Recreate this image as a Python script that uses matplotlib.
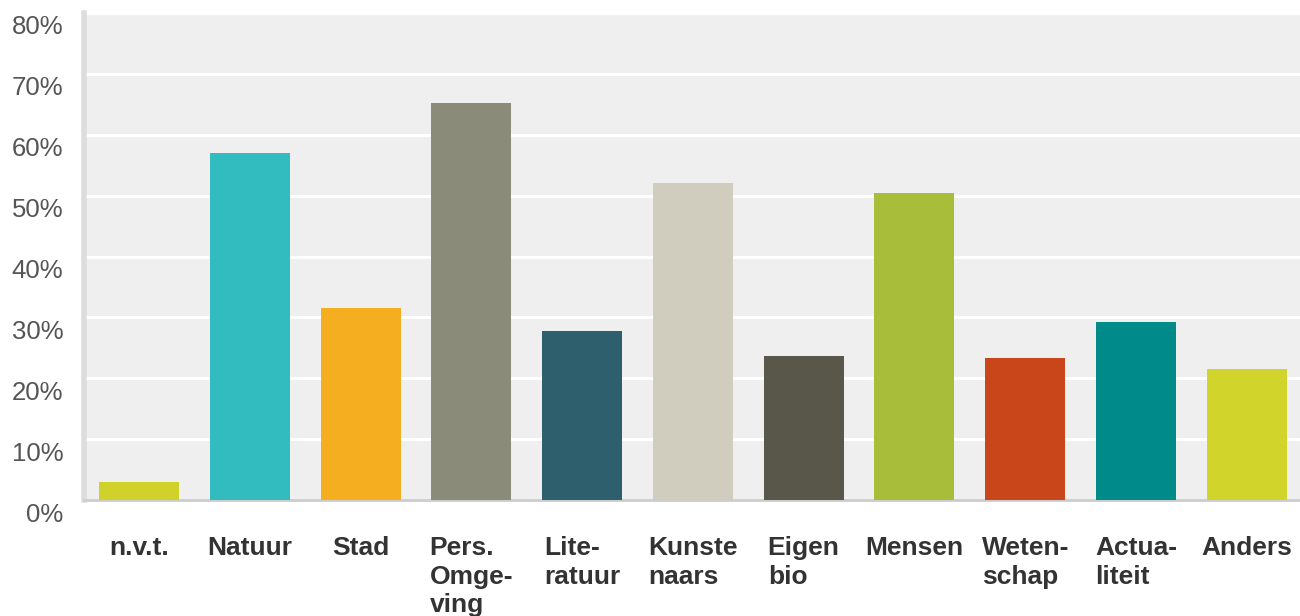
import matplotlib
matplotlib.use("Agg")
import matplotlib.pyplot as plt
from matplotlib.transforms import ScaledTranslation

categories = ["n.v.t.", "Natuur", "Stad", "Pers.\nOmge-\nving", "Lite-\nratuur",
              "Kunste\nnaars", "Eigen\nbio", "Mensen", "Weten-\nschap",
              "Actua-\nliteit", "Anders"]
values = [3.0, 57.0, 31.6, 65.2, 27.7, 52.0, 23.6, 50.5, 23.3, 29.2, 21.6]
colors = ["#d0d22b", "#33bcbf", "#f6ae21", "#8b8b79", "#2e5f6d", "#d0cdbf",
          "#58574a", "#a8bd3a", "#c9461a", "#008a8a", "#d0d42b"]
yticks = [0, 10, 20, 30, 40, 50, 60, 70, 80]
ytick_labels = [f"{v}%" for v in yticks]

fig = plt.figure(figsize=(13, 6.16), dpi=100)
ax = fig.add_axes([84/1300, 116/616, (1300-84)/1300, (500-13)/616])
ax.set_facecolor("#efefef")
x = list(range(len(categories)))
ax.bar(x, values, width=0.722, color=colors, zorder=3)
ax.set_xlim(-0.496, 10.48)
ax.set_ylim(0, 80)
ax.set_yticks(yticks)
ax.set_yticklabels(ytick_labels, fontsize=18.5, color="#555555",
                   family="Liberation Sans")
ax.yaxis.grid(True, color="white", linewidth=2.2, zorder=1)
ax.tick_params(axis="y", length=0, pad=15)
ax.tick_params(axis="x", length=0, pad=26)
ax.set_xticks(x)
ax.set_xticklabels(categories, fontsize=19, color="#333333", fontweight="bold",
                   family="Liberation Sans", linespacing=1.24,
                   multialignment="left")
off = ScaledTranslation(0, -0.12, fig.dpi_scale_trans)
for lab in ax.get_yticklabels():
    lab.set_transform(lab.get_transform() + off)
for s in ["top", "right"]:
    ax.spines[s].set_visible(False)
ax.spines["left"].set_color("#dddddd")
ax.spines["left"].set_linewidth(4)
ax.spines["bottom"].set_color("#cccccc")
ax.spines["bottom"].set_linewidth(2)
fig.savefig("out.png", dpi=100)
